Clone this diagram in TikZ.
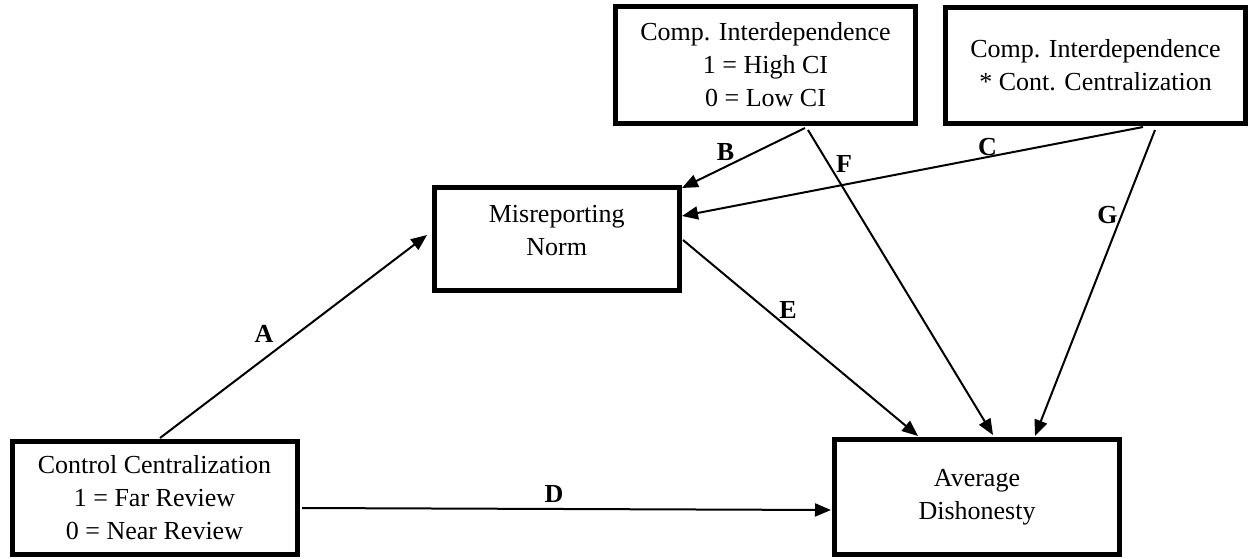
\documentclass[tikz,border=0pt]{standalone}
\usepackage{fontspec}
\setmainfont{Liberation Serif}
\usetikzlibrary{arrows.meta}

\tikzset{
  varbox/.style={draw=black, line width=5pt, rectangle, outer sep=0pt, inner sep=0pt,
                 align=center, font=\fontsize{26}{33}\selectfont},
  boxtext/.style={align=center, inner sep=0pt, font=\fontsize{26}{33}\selectfont},
  path/.style={draw=black, line width=2pt, -{Triangle[length=16pt,width=13pt]}},
  pathlabel/.style={anchor=base, inner sep=0pt, font=\fontsize{26}{26}\selectfont\bfseries}
}

\begin{document}
\begin{tikzpicture}[x=1pt, y=-1pt]
  \useasboundingbox (0,0) rectangle (1248,558);

  % variables
  \node[varbox, minimum width=285pt, minimum height=113pt] (ctrl) at (154.5,497.5)
    {\rule{0pt}{4pt}Control Centralization\\1 = Far Review\\0 = Near Review};
  \node[varbox, minimum width=285pt, minimum height=114.5pt] (avg) at (977,497)
    {Average\\Dishonesty};
  \node[varbox, minimum width=245.5pt, minimum height=103pt] (mis) at (556.75,239) {};
  \node[boxtext] (mistext) at (556.75,231) {Misreporting\\Norm};
  \node[varbox, minimum width=300pt, minimum height=117pt] (ci) at (765.5,65)
    {Comp. Interdependence\\1 = High CI\\0 = Low CI};
  \node[varbox, minimum width=300pt, minimum height=115.5pt] (cc) at (1095.5,65.25)
    {Comp. Interdependence\\* Cont. Centralization};

  % paths
  \draw[path] ([xshift=5.5pt,yshift=3pt]ctrl.north) -- ([xshift=-7pt,yshift=4pt]mis.west);
  \draw[path] ([xshift=5pt,yshift=-10.5pt]ctrl.east) -- ([xshift=-3.5pt,yshift=-13pt]avg.west);
  \draw[path] ([xshift=39.5pt,yshift=-4.5pt]ci.south) -- ([xshift=2.5pt,yshift=-0.5pt]mis.north east);
  \draw[path] ([xshift=47.5pt,yshift=-4pt]cc.south) -- ([xshift=2.5pt,yshift=23pt]mis.east);
  \draw[path] ([xshift=3.5pt,yshift=-1pt]mis.east) -- ([xshift=-59pt,yshift=3.75pt]avg.north);
  \draw[path] ([xshift=42.5pt,yshift=-6.5pt]ci.south) -- ([xshift=16pt,yshift=4.75pt]avg.north);
  \draw[path] ([xshift=59.5pt,yshift=-7pt]cc.south) -- ([xshift=58pt,yshift=3.75pt]avg.north);

  % path labels
  \node[pathlabel] (labA) at (264,342) {A};
  \node[pathlabel] (labB) at (725.5,160) {B};
  \node[pathlabel] (labC) at (987.5,155) {C};
  \node[pathlabel] (labD) at (554,502) {D};
  \node[pathlabel] (labE) at (788,318) {E};
  \node[pathlabel] (labF) at (844,172) {F};
  \node[pathlabel] (labG) at (1107.5,223) {G};
\end{tikzpicture}
\end{document}
